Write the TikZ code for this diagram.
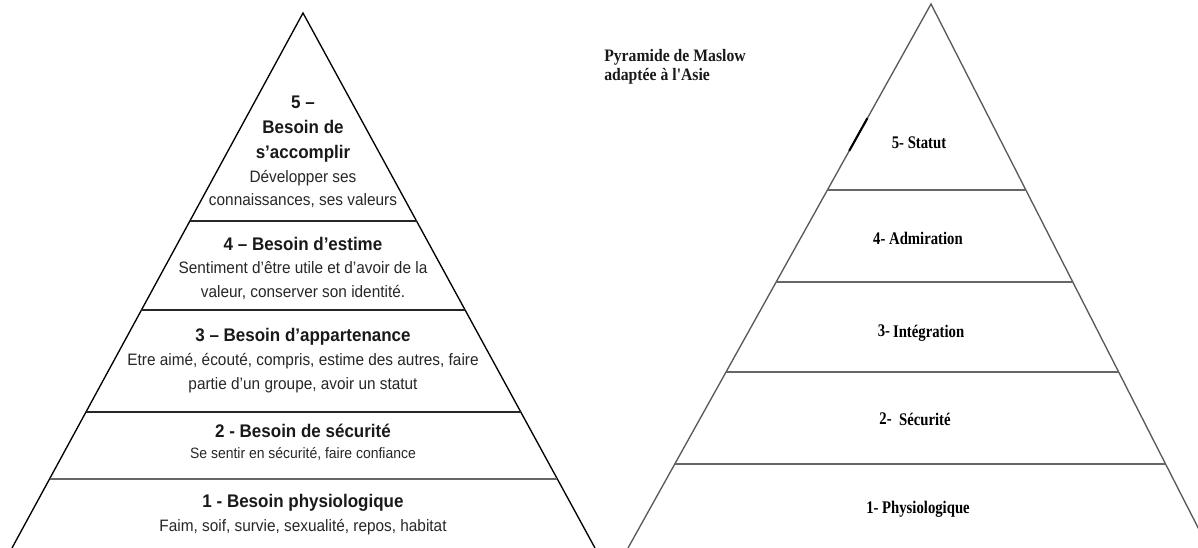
\documentclass[tikz,border=0pt]{standalone}
\usepackage{fontspec}
\usetikzlibrary{calc}
\newfontfamily\sansn[FakeStretch=0.93]{Liberation Sans}
\newfontfamily\serifn[FakeStretch=0.83]{Liberation Serif}
\newfontfamily\serift[FakeStretch=0.9]{Liberation Serif}
\begin{document}
\begin{tikzpicture}[x=0.75pt,y=-0.75pt,
  side/.style={line width=1.0pt,black},
  sep/.style={line width=1.1pt,black!85},
  gsep/.style={line width=1.9pt,black!60},
  rside/.style={line width=1.0pt,black!65},
  rsep/.style={line width=1.9pt,black!60},
  tb/.style={anchor=base,inner sep=0pt,font=\sansn\bfseries\fontsize{13.7pt}{16pt}\selectfont,text=black!90},
  td/.style={anchor=base,inner sep=0pt,font=\sansn\fontsize{12.4pt}{15pt}\selectfont,text=black!85},
  ts/.style={anchor=base,inner sep=0pt,font=\sansn\fontsize{11.25pt}{14pt}\selectfont,text=black!85},
  rl/.style={anchor=base,inner sep=0pt,font=\serifn\bfseries\fontsize{13.3pt}{15pt}\selectfont},
  ttl/.style={anchor=base west,inner sep=0pt,font=\serift\bfseries\fontsize{13.1pt}{15pt}\selectfont,text=black!90}]
\useasboundingbox (0,0) rectangle (1198,548);
\clip (0,0) rectangle (1198,548);
% ---------- left pyramid ----------
\coordinate (LA) at (303,13);
\coordinate (LL) at (12,548);
\coordinate (LR) at (595,548);
\draw[side] (LL) -- (LA) -- (LR);
\draw[sep] ($(LA)!0.3888!(LL)$) -- ($(LA)!0.3888!(LR)$);
\draw[sep] ($(LA)!0.5551!(LL)$) -- ($(LA)!0.5551!(LR)$);
\draw[sep] ($(LA)!0.7458!(LL)$) -- ($(LA)!0.7458!(LR)$);
\draw[gsep] ($(LA)!0.8710!(LL)$) -- ($(LA)!0.8710!(LR)$);
\node[tb] (l5a) at (303,108.5) {5 –};
\node[tb] (l5b) at (303,133.5) {Besoin de};
\node[tb] (l5c) at (303,158.5) {s’accomplir};
\node[td] (l5d) at (303,182.5) {Développer ses};
\node[td] (l5e) at (303,205.5) {connaissances, ses valeurs};
\node[tb] (l4a) at (303,250.5) {4 – Besoin d’estime};
\node[td] (l4b) at (303,273.5) {Sentiment d’être utile et d’avoir de la};
\node[td] (l4c) at (303,297.5) {valeur, conserver son identité.};
\node[tb] (l3a) at (303,341.5) {3 – Besoin d’appartenance};
\node[td] (l3b) at (303,365.5) {Etre aimé, écouté, compris, estime des autres, faire};
\node[td] (l3c) at (303,389.5) {partie d’un groupe, avoir un statut};
\node[tb] (l2a) at (303,437.5) {2 - Besoin de sécurité};
\node[ts] (l2b) at (303,458) {Se sentir en sécurité, faire confiance};
\node[tb] (l1a) at (303,507.5) {1 - Besoin physiologique};
\node[td] (l1b) at (303,531.5) {Faim, soif, survie, sexualité, repos, habitat};
% ---------- right pyramid ----------
\coordinate (RA) at (931,4);
\coordinate (RL) at (628,548);
\coordinate (RR) at (1208.4,548);
\draw[rside] (RL) -- (RA) -- (RR);
\draw[line width=1.6pt,black] ($(RA)!0.21!(RL)$) -- ($(RA)!0.27!(RL)$);
\draw[rsep] ($(RA)!0.3419!(RL)$) -- ($(RA)!0.3419!(RR)$);
\draw[rsep] ($(RA)!0.5110!(RL)$) -- ($(RA)!0.5110!(RR)$);
\draw[rsep] ($(RA)!0.6765!(RL)$) -- ($(RA)!0.6765!(RR)$);
\draw[rsep] ($(RA)!0.8456!(RL)$) -- ($(RA)!0.8456!(RR)$);
\node[ttl] (t1) at (604,62) {Pyramide de Maslow};
\node[ttl] (t2) at (604,81) {adaptée à l'Asie};
\node[rl] (r5) at (919,149) {5- Statut};
\node[rl] (r4) at (918,245) {4- Admiration};
\node[rl] (r3) at (921,338) {\raisebox{1.2pt}{3-}\,Intégration};
\node[rl] (r2) at (915,426) {\raisebox{1.2pt}{2-}\ \ Sécurité};
\node[rl] (r1) at (918,513) {1- Physiologique};
\end{tikzpicture}
\end{document}
